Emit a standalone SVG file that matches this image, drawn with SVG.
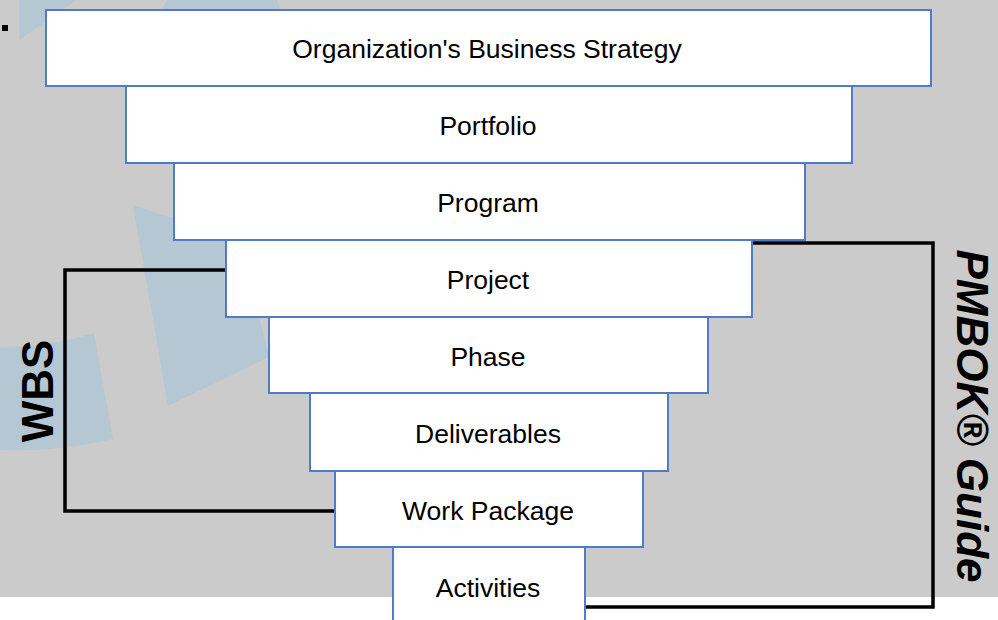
<svg xmlns="http://www.w3.org/2000/svg" width="998" height="620" viewBox="0 0 998 620">
<style>
.box{fill:#ffffff;stroke:#4f7bc8;stroke-width:2}
.lbl{font-family:"Liberation Sans",Arial,sans-serif;font-size:26.5px;fill:#000;text-anchor:middle}
.wm{fill:#b5c7d3}
.con{fill:none;stroke:#000;stroke-width:3.5}
.side{font-family:"Liberation Sans",Arial,sans-serif;font-weight:bold;font-size:44px;fill:#000;text-anchor:middle}
</style>
<rect x="0" y="0" width="998" height="620" fill="#ffffff"/>
<rect x="0" y="0" width="998" height="597" fill="#cbcbcb"/>
<g id="watermark">
<polygon class="wm" points="19,0 77,0 19,40"/>
<polygon class="wm" points="167,0 277,0 281,12 160,12"/>
<polygon class="wm" points="133,205 240,240 269,357 168,406"/>
<path class="wm" d="M0,347 Q50,347 94,333 L113,439 Q60,452 0,450 Z"/>
</g>
<rect x="2" y="25" width="6" height="6" fill="#000"/>
<g id="connectors">
<polyline class="con" points="226,270 65,270 65,511 335,511"/>
<polyline class="con" points="752,243 933,243 933,607 585,607"/>
</g>
<g id="n1"><rect class="box" x="46" y="10" width="885" height="76"/><text class="lbl" x="487" y="58">Organization's Business Strategy</text></g>
<g id="n2"><rect class="box" x="126" y="86" width="726" height="77"/><text class="lbl" x="488" y="135">Portfolio</text></g>
<g id="n3"><rect class="box" x="174" y="163" width="631" height="77"/><text class="lbl" x="488" y="212">Program</text></g>
<g id="n4"><rect class="box" x="226" y="240" width="526" height="77"/><text class="lbl" x="488" y="289">Project</text></g>
<g id="n5"><rect class="box" x="269" y="317" width="439" height="76"/><text class="lbl" x="488" y="366">Phase</text></g>
<g id="n6"><rect class="box" x="310" y="393" width="358" height="78"/><text class="lbl" x="488" y="443">Deliverables</text></g>
<g id="n7"><rect class="box" x="335" y="471" width="308" height="76"/><text class="lbl" x="488" y="520">Work Package</text></g>
<g id="n8"><rect class="box" x="393" y="547" width="192" height="80"/><text class="lbl" x="488" y="597">Activities</text></g>
<g id="wbs"><text class="side" transform="translate(53,391) rotate(-90)">WBS</text></g>
<g id="pmbok"><text class="side" font-style="italic" font-size="45.5" transform="translate(957,416) rotate(90)">PMBOK® Guide</text></g>
</svg>
